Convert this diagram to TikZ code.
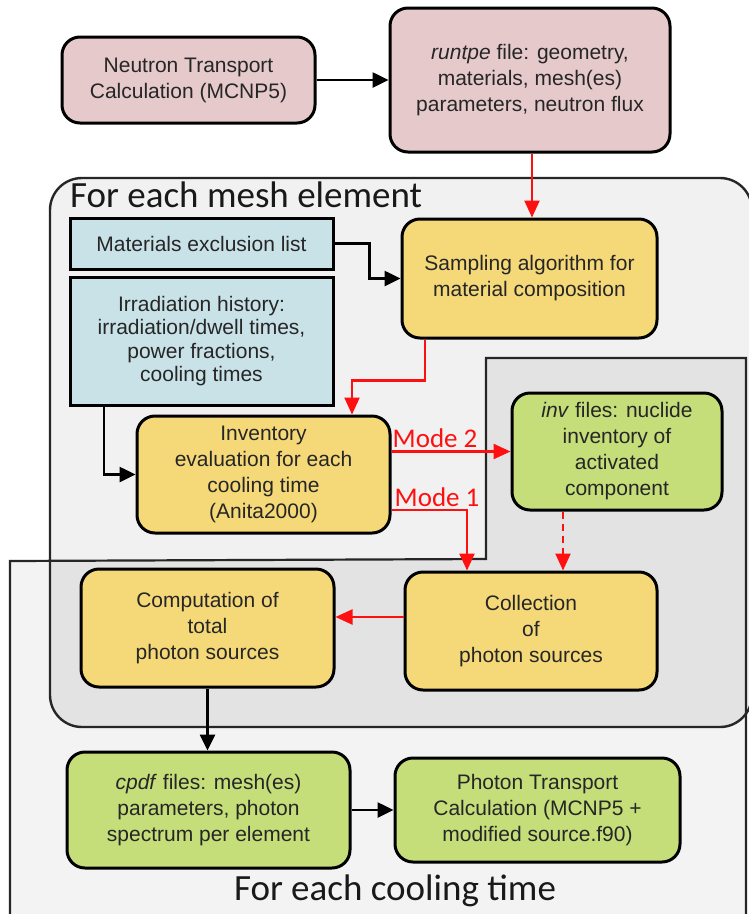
\documentclass[tikz,border=0pt]{standalone}
\usepackage{fontspec}
\setmainfont{Liberation Sans}
\newfontfamily\carl{Carlito}
\usetikzlibrary{arrows.meta,calc}
\definecolor{pinkc}{HTML}{E6C9CB}
\definecolor{bluec}{HTML}{C9E2E7}
\definecolor{yellc}{HTML}{F5D978}
\definecolor{greenc}{HTML}{C5DE7A}
\definecolor{meshc}{HTML}{F1F1F1}
\definecolor{coolc}{HTML}{F3F3F3}
\definecolor{overc}{HTML}{E3E3E3}
\definecolor{redc}{HTML}{FF1010}
\tikzset{
  boxbase/.style={draw=black, line width=3pt, align=center, inner sep=2pt,
    font=\fontsize{21}{26}\selectfont, text=black!85},
  rbox/.style={boxbase, rounded corners=18pt},
  sbox/.style={boxbase},
  blk/.style={line width=2.6pt, draw=black, -{Triangle[length=16pt,width=15pt]}},
  redarr/.style={line width=2.4pt, draw=redc, -{Triangle[length=17pt,width=15pt]}},
  modelab/.style={font=\carl\fontsize{27}{27}\selectfont, text=redc, inner sep=0pt},
  regionlab/.style={font=\carl\fontsize{37}{37}\selectfont, text=black!90, inner sep=0pt}
}
\begin{document}
\begin{tikzpicture}[x=1pt,y=-1pt]
\clip (0,0) rectangle (749,914);
\useasboundingbox (0,0) rectangle (749,914);
\fill[white] (0,0) rectangle (749,914);
% regions
\def\coolpath{(10,561) -- (486,559) -- (486,358) -- (746,358) -- (746,930) -- (10,930) -- cycle}
\fill[coolc] \coolpath;
\fill[meshc, rounded corners=32pt] (50,178) rectangle (752,727);
\begin{scope}
  \clip \coolpath;
  \fill[overc, rounded corners=32pt] (50,178) rectangle (752,727);
\end{scope}
\draw[line width=2.4pt, draw=black!85, rounded corners=32pt] (50,178) rectangle (752,727);
\draw[line width=2.2pt, draw=black!85] \coolpath;
\node[regionlab, anchor=base west] (meshlab) at (70,207) {For each mesh element};
\node[regionlab, anchor=base] (coollab) at (395,900) {For each cooling time};

% boxes
\node[rbox, fill=pinkc, minimum width=253pt, minimum height=86pt] (neutron) at (188.5,80)
  {Neutron Transport\\Calculation (MCNP5)};
\node[rbox, fill=pinkc, minimum width=280pt, minimum height=144pt] (runtpe) at (530,80)
  {\textit{runtpe} file: geometry,\\materials, mesh(es)\\parameters, neutron flux};
\node[sbox, fill=bluec, minimum width=263pt, minimum height=51pt] (excl) at (201.5,243.5)
  {Materials exclusion list};
\node[sbox, fill=bluec, minimum width=263pt, minimum height=128pt,
  font=\fontsize{21}{23.5}\selectfont] (irr) at (201.5,341)
  {Irradiation history:\\irradiation/dwell times,\\power fractions,\\cooling times};
\node[rbox, fill=yellc, minimum width=255pt, minimum height=119pt] (sampling) at (529.5,278.5)
  {Sampling algorithm for\\material composition};
\node[rbox, fill=yellc, minimum width=253pt, minimum height=117pt] (inventory) at (263.5,474.5)
  {Inventory\\evaluation for each\\cooling time\\(Anita2000)};
\node[rbox, fill=greenc, minimum width=210pt, minimum height=117pt] (inv) at (617,451.5)
  {\textit{inv} files: nuclide\\inventory of\\activated\\component};
\node[rbox, fill=yellc, minimum width=252pt, minimum height=118pt] (collection) at (531,631)
  {Collection\\of\\photon sources};
\node[rbox, fill=yellc, minimum width=253pt, minimum height=118pt] (computation) at (207.5,628)
  {Computation of\\total\\photon sources};
\node[rbox, fill=greenc, minimum width=283pt, minimum height=116pt] (cpdf) at (208.5,810)
  {\textit{cpdf} files: mesh(es)\\parameters, photon\\spectrum per element};
\node[rbox, fill=greenc, minimum width=285pt, minimum height=104pt] (photon) at (537.5,810)
  {Photon Transport\\Calculation (MCNP5 +\\modified source.f90)};

% connectors
\draw[blk] (neutron.east) -- (neutron.east -| runtpe.west);
\draw[redarr] ([xshift=2pt]runtpe.south) -- ([xshift=2pt]runtpe.south |- sampling.north);
\draw[blk] (excl.east) -- ++(35,0) |- (sampling.west);
\draw[redarr] ([xshift=-104.5pt]sampling.south) -- ++(0,41) -| ([xshift=88.5pt]inventory.north);
\draw[blk] ([xshift=-97.5pt]irr.south) |- (inventory.west);
\draw[redarr] (inventory.east |- inv.west) -- (inv.west)
  node[modelab, pos=0, anchor=south west, yshift=3pt] (m2) {Mode 2};
\draw[redarr] ([yshift=-35.5pt]inventory.east) -| ([xshift=-64pt]collection.north);
\node[modelab, anchor=south west] (m1) at ([xshift=3pt,yshift=3pt]inventory.east |- 0,510) {Mode 1};
\draw[redarr, dashed, dash pattern=on 7pt off 5pt] ([xshift=-54pt]inv.south) -- ([xshift=-54pt]inv.south |- collection.north);
\draw[redarr] ([yshift=14pt]collection.west) -- ([yshift=14pt]collection.west -| computation.east);
\draw[blk] (computation.south) -- (computation.south |- cpdf.north);
\draw[blk] (cpdf.east) -- (cpdf.east -| photon.west);
\end{tikzpicture}
\end{document}
